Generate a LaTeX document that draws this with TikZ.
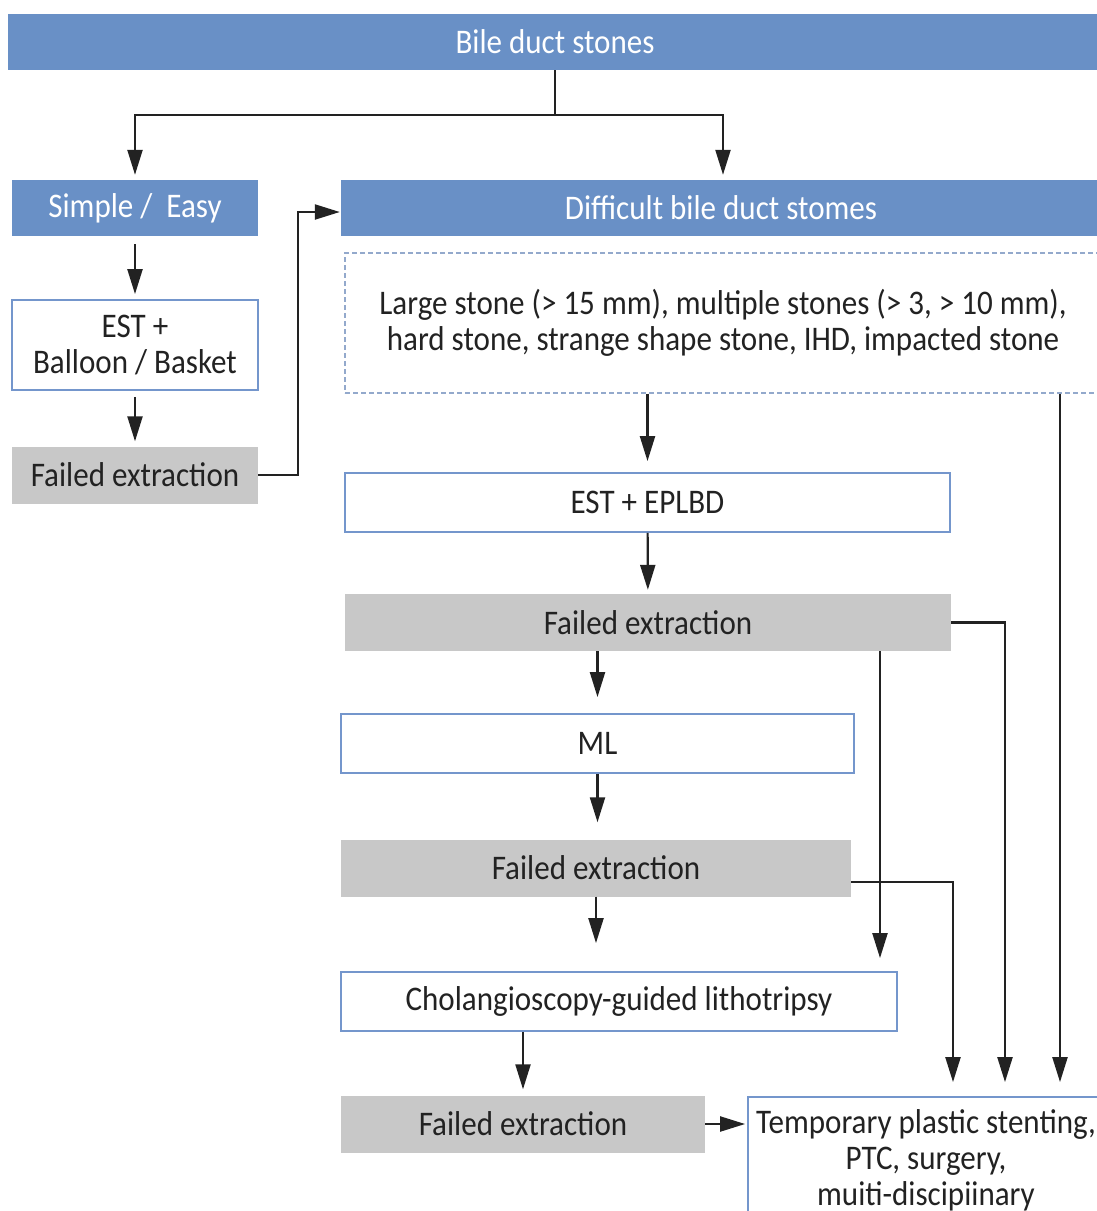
\documentclass[tikz,border=0pt]{standalone}
\usepackage{fontspec}
\setmainfont{Carlito}[FakeStretch=0.9]
\usepackage{tikz}
\usetikzlibrary{arrows.meta}
\definecolor{hdrBlue}{HTML}{6990C6}
\definecolor{edgeBlue}{HTML}{7496CC}
\definecolor{failGrey}{HTML}{C8C8C8}
\definecolor{dashBlue}{HTML}{93A9CC}
\definecolor{ink}{HTML}{222222}
\newcommand{\boxfont}{\fontsize{34.5}{36}\selectfont}

\begin{document}
\begin{tikzpicture}[x=1pt, y=-1pt,
    header/.style={fill=hdrBlue, text=white, font=\boxfont,
                  minimum height=56pt, inner sep=0pt},
    plain/.style={draw=edgeBlue, line width=1.8pt, fill=white, text=ink,
                  font=\boxfont, align=center, inner sep=0pt},
    failed/.style={fill=failGrey, text=ink, font=\boxfont,
                  minimum height=57pt, inner sep=0pt},
    crit/.style={draw=dashBlue, line width=1.4pt, dash pattern=on 5pt off 3pt,
                  text=ink, font=\boxfont, align=center, inner sep=0pt},
    arr/.style={draw=ink, line width=2.2pt,
                  -{Triangle[length=25pt, width=15pt]}, shorten >=#1},
    arr/.default=5pt,
  ]
    \useasboundingbox (0,0) rectangle (1097,1211);

    % --- headers -------------------------------------------------------------
    \node[header, minimum width=1094pt] (top)    at (555,42)   {Bile duct stones};
    \node[header, minimum width=246pt]  (simple) at (135,208)  {Simple /\ \ Easy};
    \node[header, minimum width=760pt]  (diff)   at (721,208)  {Difficult bile duct stomes};

    % --- easy branch ---------------------------------------------------------
    \node[plain, minimum width=246pt, minimum height=90pt] (est)   at (135,345) {EST +\\Balloon / Basket};
    \node[failed, minimum width=246pt]                     (failA) at (135,475) {Failed extraction};

    % --- difficult branch ----------------------------------------------------
    \node[crit, minimum width=756pt, minimum height=140pt] (cond) at (723,323)
        {Large stone (> 15 mm), multiple stones (> 3, > 10 mm),\\hard stone, strange shape stone, IHD, impacted stone};
    \node[plain, minimum width=605pt, minimum height=59pt] (eplbd) at (647.5,502.5) {EST + EPLBD};
    \node[failed, minimum width=606pt]                     (failB) at (648,622.5)   {Failed extraction};
    \node[plain, minimum width=513pt, minimum height=59pt] (ml)    at (597.5,743.5) {ML};
    \node[failed, minimum width=510pt]                     (failC) at (596,868)     {Failed extraction};
    \node[plain, minimum width=556pt, minimum height=59pt] (chol)  at (619,1001.5)  {Cholangioscopy-guided lithotripsy};
    \node[failed, minimum width=364pt]                     (failD) at (523,1124)    {Failed extraction};
    \node[plain, minimum width=356pt, minimum height=126pt] (rescue) at (926,1160)
        {Temporary plastic stenting,\\PTC, surgery,\\muiti-discipiinary};

    % --- connectors ----------------------------------------------------------
    \coordinate (split) at ([yshift=-45pt]top.south);
    \draw[draw=ink, line width=2.2pt] (top.south) -- (split);
    \draw[arr] (split) -| (simple.north);
    \draw[arr] (split) -| ([xshift=2pt]diff.north);
    \draw[arr, shorten <=8pt] (simple) -- (est);
    \draw[arr, shorten <=6pt] (est) -- (failA);
    \draw[arr=1pt] (failA.east) -- ++(40,0) |- ([yshift=-4pt]diff.west);

    \draw[arr=11pt] (eplbd.north |- cond.south) -- (eplbd.north);
    \draw[arr=4pt] (eplbd) -- (failB);
    \draw[arr=16pt] (ml.north |- failB.south) -- (ml.north);
    \draw[arr=17pt] (ml.south) -- (ml.south |- failC.north);
    \draw[arr=28pt] (failC.south) -- (failC.south |- chol.north);
    \draw[arr=6pt] (failD.north |- chol.south) -- (failD.north);
    \draw[arr=2pt] (failD.east) -- (failD.east -| rescue.west);

    \coordinate (drop) at ([xshift=232pt]failB.south);
    \draw[arr=13pt] (drop) -- (drop |- chol.north);
    \draw[arr=14pt] (failB.east) -| ([xshift=79pt]rescue.north);
    \draw[arr=14pt] ([yshift=-14pt]failC.east) -| ([xshift=27pt]rescue.north);
    \draw[arr=14pt] ([xshift=337pt]cond.south) -- ([xshift=134pt]rescue.north);
\end{tikzpicture}
\end{document}
